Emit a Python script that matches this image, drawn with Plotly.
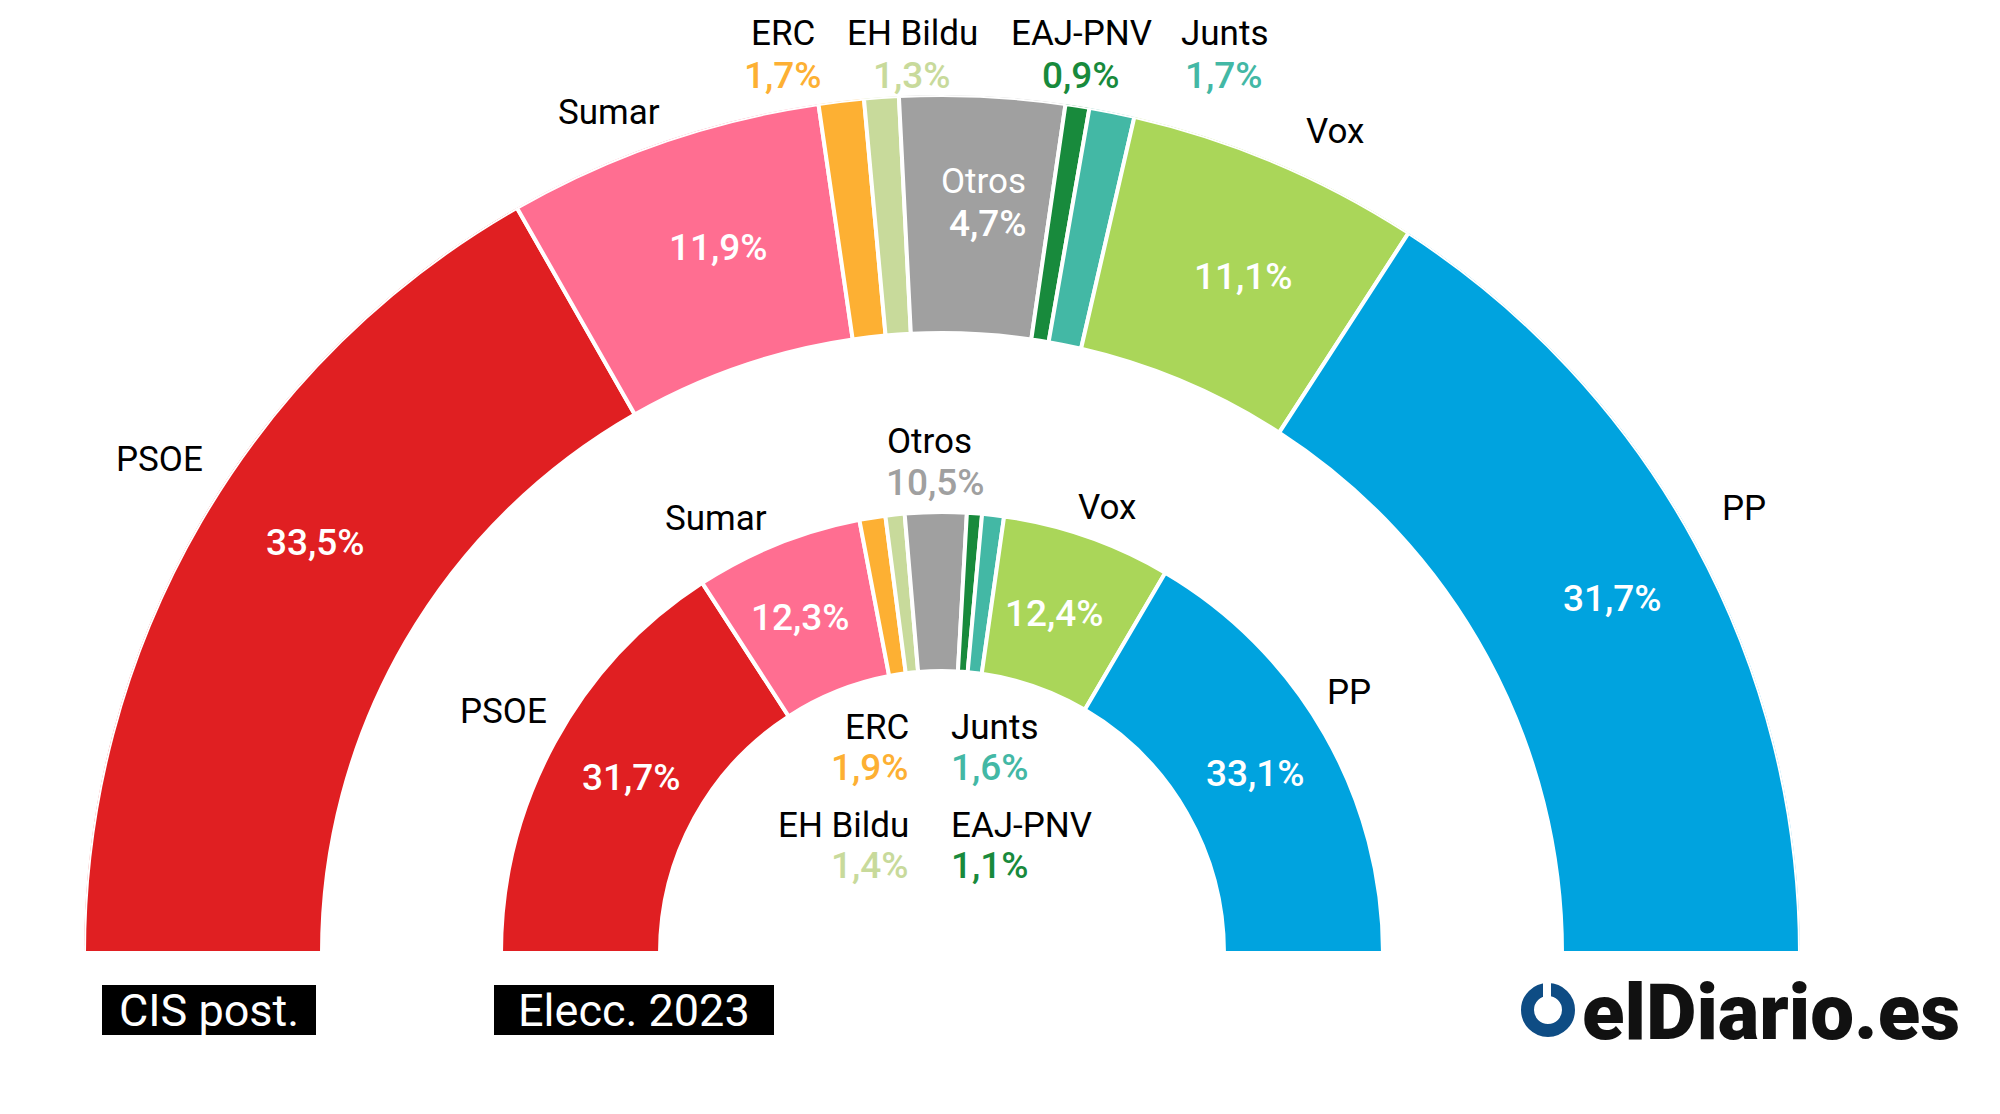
import plotly.graph_objects as go

# ---------------- data ----------------
parties = ["PSOE", "Sumar", "ERC", "EH Bildu", "Otros", "EAJ-PNV", "Junts", "Vox", "PP"]
colors = ["#E01F22", "#FF6E91", "#FDB033", "#C8DA9B", "#A0A0A0", "#188A3C", "#43B8A5", "#AAD659", "#00A3DF"]

# printed percentages
cis_pct = [33.5, 11.9, 1.7, 1.3, 4.7, 0.9, 1.7, 11.1, 31.7]
elec_pct = [31.7, 12.3, 1.9, 1.4, 10.5, 1.1, 1.6, 12.4, 33.1]
# arc shares as drawn in the picture (Otros fills the remainder)
cis_arc = [33.5, 11.9, 1.7, 1.3, 6.2, 0.9, 1.7, 11.1, 31.7]
elec_arc = [31.7, 12.3, 1.9, 1.4, 4.5, 1.1, 1.6, 12.4, 33.1]

ring_labels = ["CIS post.", "Elecc. 2023"]

# ---------------- layout helpers ----------------
OFF = 8                      # page body margin
W, H = 2000 - 2 * OFF, 1114 - 2 * OFF
CX, CY, R = 942, 953, 858    # page-pixel centre and radius of the half-circle
OUT_BASE, OUT_TOP = 620, 858
IN_BASE, IN_TOP = 282, 441
FONT = "Roboto"


def px(x):
    return (x - OFF) / W


def py(y):
    return 1 - (y - OFF) / H


def fmt(v):
    return f"{v:.1f}".replace(".", ",") + "%"


def arcs(shares):
    tot = sum(shares)
    widths = [s / tot * 180 for s in shares]
    mids, acc = [], 0
    for w in widths:
        mids.append(acc + w / 2)
        acc += w
    return mids, widths


fig = go.Figure()
for shares, base, top, name in [(cis_arc, OUT_BASE, OUT_TOP, ring_labels[0]),
                                (elec_arc, IN_BASE, IN_TOP, ring_labels[1])]:
    mids, widths = arcs(shares)
    fig.add_trace(go.Barpolar(
        r=[top - base] * len(shares), base=[base] * len(shares),
        theta=mids, width=widths, name=name,
        marker=dict(color=colors, line=dict(color="white", width=4)),
        text=parties, hoverinfo="text", showlegend=False,
    ))

ann = []


def label(x, y, text, color="black", size=35, weight=400, xanchor="center"):
    ann.append(dict(x=px(x), y=py(y), xref="paper", yref="paper", text=text,
                    showarrow=False, xanchor=xanchor, yanchor="middle",
                    font=dict(family=FONT, size=size, color=color, weight=weight)))


idx = {p: i for i, p in enumerate(parties)}
PS = 37  # percent font size

# ---- outer ring (CIS) ----
label(159, 460, "PSOE")
label(315, 542, fmt(cis_pct[idx["PSOE"]]), "white", PS, 500)
label(609, 112, "Sumar")
label(718, 247, fmt(cis_pct[idx["Sumar"]]), "white", PS, 500)
for p, x in [("ERC", 783), ("EH Bildu", 912), ("EAJ-PNV", 1081), ("Junts", 1224)]:
    label(x, 34, p)
    label(x, 75, fmt(cis_pct[idx[p]]), colors[idx[p]], PS, 500)
label(983, 182, "Otros", "white")
label(988, 223, fmt(cis_pct[idx["Otros"]]), "white", PS, 500)
label(1335, 132, "Vox")
label(1243, 276, fmt(cis_pct[idx["Vox"]]), "white", PS, 500)
label(1744, 508, "PP")
label(1612, 598, fmt(cis_pct[idx["PP"]]), "white", PS, 500)

# ---- inner ring (2023 election) ----
label(503, 711, "PSOE")
label(631, 777, fmt(elec_pct[idx["PSOE"]]), "white", PS, 500)
label(716, 518, "Sumar")
label(800, 617, fmt(elec_pct[idx["Sumar"]]), "white", PS, 500)
label(929, 442, "Otros")
label(935, 482, fmt(elec_pct[idx["Otros"]]), colors[idx["Otros"]], PS, 500)
label(1107, 507, "Vox")
label(1054, 614, fmt(elec_pct[idx["Vox"]]), "white", PS, 500)
label(1349, 692, "PP")
label(1255, 773, fmt(elec_pct[idx["PP"]]), "white", PS, 500)
for p, x, y, xa in [("ERC", 911, 727, "right"), ("EH Bildu", 911, 825, "right"),
                    ("Junts", 949, 727, "left"), ("EAJ-PNV", 949, 825, "left")]:
    label(x, y, p, xanchor=xa)
    label(x, y + 40, fmt(elec_pct[idx[p]]), colors[idx[p]], PS, 500, xanchor=xa)

# ---- ring captions (white on black boxes) ----
shapes = []
for text, x0, x1 in [(ring_labels[0], 102, 316), (ring_labels[1], 494, 774)]:
    shapes.append(dict(type="rect", xref="paper", yref="paper",
                       x0=px(x0), x1=px(x1), y0=py(1035), y1=py(985),
                       fillcolor="black", line=dict(width=0), layer="above"))
    ann.append(dict(x=px((x0 + x1) / 2), y=py(1010), xref="paper", yref="paper",
                    text=text, showarrow=False, xanchor="center", yanchor="middle",
                    font=dict(family=FONT, size=45, color="white")))

# ---- logo ----
shapes.append(dict(type="circle", xref="paper", yref="paper",
                   x0=px(1548 - 20.5), x1=px(1548 + 20.5), y0=py(1010 + 20.5), y1=py(1010 - 20.5),
                   line=dict(color="#0E4C84", width=13), fillcolor="rgba(0,0,0,0)", layer="above"))
shapes.append(dict(type="rect", xref="paper", yref="paper",
                   x0=px(1543), x1=px(1551), y0=py(1000), y1=py(978),
                   fillcolor="white", line=dict(width=0), layer="above"))
ann.append(dict(x=px(1580), y=py(1012), xref="paper", yref="paper", text="elDiario.es",
                showarrow=False, xanchor="left", yanchor="middle",
                font=dict(family=FONT, size=78, color="#111111", weight=900)))

fig.update_layout(
    width=W, height=H, margin=dict(l=0, r=0, t=0, b=0),
    paper_bgcolor="white", plot_bgcolor="white",
    polar=dict(
        domain=dict(x=[px(CX - R), px(CX + R)], y=[py(CY), py(CY - R)]),
        sector=[0, 180], bgcolor="rgba(0,0,0,0)", hole=0,
        radialaxis=dict(visible=False, range=[0, R], showgrid=False),
        angularaxis=dict(visible=False, direction="clockwise", rotation=180, showgrid=False),
    ),
    annotations=ann, shapes=shapes,
)

fig.write_html("out.html")
